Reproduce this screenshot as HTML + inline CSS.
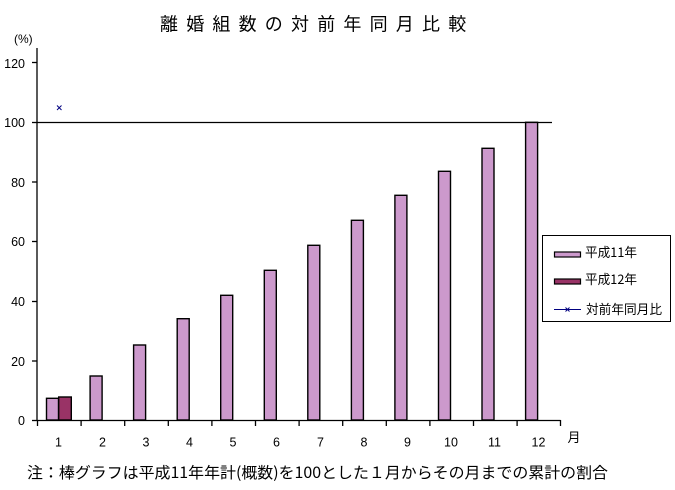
<!DOCTYPE html>
<html><head><meta charset="utf-8">
<style>
html,body{margin:0;padding:0;background:#fff;}
svg{display:block;}
text{font-family:"Liberation Sans","Noto Sans CJK JP",sans-serif;fill:#000;}
.j{font-family:"Noto Sans CJK JP","Liberation Sans",sans-serif;}
</style></head>
<body>
<svg width="675" height="490" viewBox="0 0 675 490" xmlns="http://www.w3.org/2000/svg">
<!-- title -->
<g font-size="18">
<text class="j" x="160" y="30.5">離</text>
<text class="j" x="186.2" y="30.5">婚</text>
<text class="j" x="212.4" y="30.5">組</text>
<text class="j" x="238.6" y="30.5">数</text>
<text class="j" x="264.8" y="30.5">の</text>
<text class="j" x="291" y="30.5">対</text>
<text class="j" x="317.2" y="30.5">前</text>
<text class="j" x="343.4" y="30.5">年</text>
<text class="j" x="369.6" y="30.5">同</text>
<text class="j" x="395.8" y="30.5">月</text>
<text class="j" x="422" y="30.5">比</text>
<text class="j" x="448.2" y="30.5">較</text>
</g>

<!-- (%) -->
<text x="14" y="43" font-size="12">(%)</text>

<!-- y labels -->
<g font-size="12.5" text-anchor="end">
<text x="25" y="68">120</text>
<text x="25" y="127">100</text>
<text x="25" y="187">80</text>
<text x="25" y="246">60</text>
<text x="25" y="306">40</text>
<text x="25" y="366">20</text>
<text x="25" y="425">0</text>
</g>

<!-- bars series 1 -->
<g fill="#cc99cc" stroke="#000" stroke-width="1.4">
<rect x="46.5" y="398.3" width="12" height="21.7"/>
<rect x="90.1" y="376" width="12" height="44"/>
<rect x="133.6" y="345" width="12" height="75"/>
<rect x="177.2" y="318.7" width="12" height="101.3"/>
<rect x="220.7" y="295.3" width="12" height="124.7"/>
<rect x="264.3" y="270.3" width="12" height="149.7"/>
<rect x="307.8" y="245.3" width="12" height="174.7"/>
<rect x="351.4" y="220.3" width="12" height="199.7"/>
<rect x="394.9" y="195.3" width="12" height="224.7"/>
<rect x="438.5" y="171.3" width="12" height="248.7"/>
<rect x="482" y="148.3" width="12" height="271.7"/>
<rect x="525.6" y="122.3" width="12" height="297.7"/>
</g>
<rect x="58.7" y="397" width="12.6" height="23" fill="#993366" stroke="#000" stroke-width="1.4"/>

<!-- 100 line -->
<line x1="37" y1="122.5" x2="552" y2="122.5" stroke="#000" stroke-width="1.3"/>

<!-- axes -->
<g stroke="#000" stroke-width="1.3">
<line x1="37" y1="48" x2="37" y2="420.5"/>
<line x1="32" y1="62.5" x2="37" y2="62.5"/>
<line x1="32" y1="122.5" x2="37" y2="122.5"/>
<line x1="32" y1="182" x2="37" y2="182"/>
<line x1="32" y1="241.5" x2="37" y2="241.5"/>
<line x1="32" y1="301.5" x2="37" y2="301.5"/>
<line x1="32" y1="361" x2="37" y2="361"/>
<line x1="32" y1="420.5" x2="37" y2="420.5"/>
<line x1="37" y1="420.5" x2="560.5" y2="420.5"/>
<line x1="37.5" y1="420" x2="37.5" y2="426"/>
<line x1="81.1" y1="420" x2="81.1" y2="426"/>
<line x1="124.7" y1="420" x2="124.7" y2="426"/>
<line x1="168.3" y1="420" x2="168.3" y2="426"/>
<line x1="211.9" y1="420" x2="211.9" y2="426"/>
<line x1="255.5" y1="420" x2="255.5" y2="426"/>
<line x1="299.1" y1="420" x2="299.1" y2="426"/>
<line x1="342.7" y1="420" x2="342.7" y2="426"/>
<line x1="386.3" y1="420" x2="386.3" y2="426"/>
<line x1="429.9" y1="420" x2="429.9" y2="426"/>
<line x1="473.5" y1="420" x2="473.5" y2="426"/>
<line x1="517.1" y1="420" x2="517.1" y2="426"/>
<line x1="560.5" y1="420" x2="560.5" y2="426"/>
</g>

<!-- x labels -->
<g font-size="12.5" text-anchor="middle">
<text x="58.5" y="446.5">1</text>
<text x="102.5" y="446.5">2</text>
<text x="146" y="446.5">3</text>
<text x="189.5" y="446.5">4</text>
<text x="233" y="446.5">5</text>
<text x="276.5" y="446.5">6</text>
<text x="320.5" y="446.5">7</text>
<text x="364" y="446.5">8</text>
<text x="407.5" y="446.5">9</text>
<text x="451" y="446.5">10</text>
<text x="494.5" y="446.5">11</text>
<text x="538.5" y="446.5">12</text>
</g>
<text class="j" x="567.5" y="442" font-size="13">月</text>

<!-- marker -->
<g stroke="#000080" stroke-width="1">
<line x1="57" y1="105.5" x2="61.5" y2="110"/>
<line x1="61.5" y1="105.5" x2="57" y2="110"/>
</g>

<!-- legend -->
<rect x="542.5" y="235.5" width="128" height="86" fill="#fff" stroke="#000" stroke-width="1"/>
<rect x="554.5" y="252" width="26" height="5" fill="#cc99cc" stroke="#000" stroke-width="1.2"/>
<rect x="554.5" y="279" width="26" height="5" fill="#993366" stroke="#000" stroke-width="1.2"/>
<line x1="554" y1="309.5" x2="581" y2="309.5" stroke="#000080" stroke-width="1"/>
<g stroke="#000080" stroke-width="1">
<line x1="565.5" y1="307.5" x2="569.5" y2="311.5"/>
<line x1="569.5" y1="307.5" x2="565.5" y2="311.5"/>
</g>
<text class="j" x="585" y="257" font-size="13" textLength="52" lengthAdjust="spacingAndGlyphs">平成11年</text>
<text class="j" x="585" y="284" font-size="13" textLength="52" lengthAdjust="spacingAndGlyphs">平成12年</text>
<text class="j" x="586" y="314" font-size="13" textLength="76" lengthAdjust="spacingAndGlyphs">対前年同月比</text>

<!-- note -->
<text class="j" x="27" y="478" font-size="15.5" textLength="581" lengthAdjust="spacingAndGlyphs">注：棒グラフは平成11年年計(概数)を100とした１月からその月までの累計の割合</text>
</svg>
</body></html>
